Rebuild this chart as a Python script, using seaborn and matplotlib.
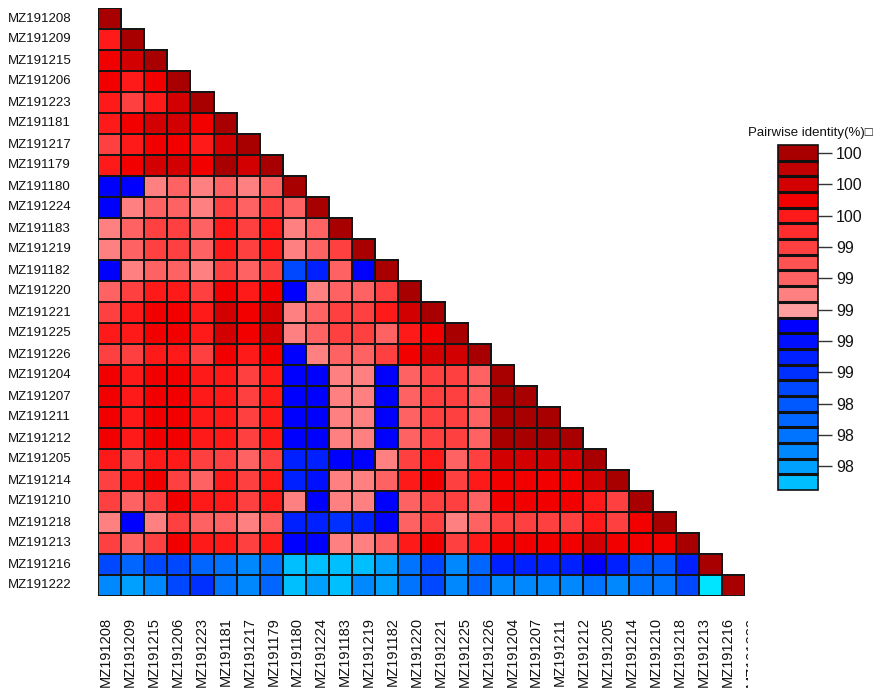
import numpy as np
import pandas as pd
import matplotlib
matplotlib.use("Agg")
import matplotlib.pyplot as plt
from matplotlib.colors import ListedColormap, to_rgba
from matplotlib.transforms import Bbox, TransformedBbox
import seaborn as sns

# Sequence accessions, in matrix order
accessions = [
    "MZ191208", "MZ191209", "MZ191215", "MZ191206", "MZ191223", "MZ191181",
    "MZ191217", "MZ191179", "MZ191180", "MZ191224", "MZ191183", "MZ191219",
    "MZ191182", "MZ191220", "MZ191221", "MZ191225", "MZ191226", "MZ191204",
    "MZ191207", "MZ191211", "MZ191212", "MZ191205", "MZ191214", "MZ191210",
    "MZ191218", "MZ191213", "MZ191216", "MZ191222",
]

# Pairwise identity (%), lower triangle, one list per row (diagonal = 100)
identity_rows = [
    [100],
    [99.55, 100],
    [99.65, 99.75, 100],
    [99.65, 99.55, 99.65, 100],
    [99.55, 99.35, 99.55, 99.75, 100],
    [99.55, 99.65, 99.75, 99.75, 99.65, 100],
    [99.35, 99.55, 99.65, 99.65, 99.55, 99.75, 100],
    [99.55, 99.65, 99.75, 99.75, 99.65, 99.95, 99.75, 100],
    [98.85, 98.85, 99.05, 99.15, 99.05, 99.15, 99.05, 99.15, 100],
    [98.85, 99.05, 99.15, 99.15, 99.05, 99.35, 99.15, 99.35, 99.15, 100],
    [99.05, 99.15, 99.35, 99.35, 99.15, 99.55, 99.35, 99.55, 99.05, 99.15, 100],
    [99.05, 99.15, 99.35, 99.35, 99.15, 99.55, 99.35, 99.55, 99.05, 99.15, 99.35, 100],
    [98.85, 99.05, 99.15, 99.15, 99.05, 99.35, 99.15, 99.35, 98.45, 98.65, 99.15, 98.85, 100],
    [99.15, 99.35, 99.55, 99.55, 99.35, 99.65, 99.55, 99.65, 98.85, 99.05, 99.15, 99.15,
     99.35, 100],
    [99.35, 99.55, 99.65, 99.65, 99.55, 99.75, 99.65, 99.75, 99.05, 99.15, 99.35, 99.35,
     99.55, 99.75, 100],
    [99.55, 99.55, 99.65, 99.65, 99.55, 99.75, 99.65, 99.75, 99.05, 99.15, 99.35, 99.35,
     99.15, 99.55, 99.65, 100],
    [99.35, 99.35, 99.55, 99.55, 99.35, 99.65, 99.55, 99.65, 98.85, 99.05, 99.15, 99.15,
     99.35, 99.65, 99.75, 99.75, 100],
    [99.65, 99.55, 99.65, 99.65, 99.55, 99.55, 99.35, 99.55, 98.85, 98.85, 99.05, 99.05,
     98.85, 99.15, 99.35, 99.35, 99.15, 100],
    [99.65, 99.55, 99.65, 99.65, 99.55, 99.55, 99.35, 99.55, 98.85, 98.85, 99.05, 99.05,
     98.85, 99.15, 99.35, 99.35, 99.15, 99.95, 100],
    [99.65, 99.55, 99.65, 99.65, 99.55, 99.55, 99.35, 99.55, 98.85, 98.85, 99.05, 99.05,
     98.85, 99.15, 99.35, 99.35, 99.15, 99.95, 99.95, 100],
    [99.65, 99.55, 99.65, 99.65, 99.55, 99.55, 99.35, 99.55, 98.85, 98.85, 99.05, 99.05,
     98.85, 99.15, 99.35, 99.35, 99.15, 99.95, 99.95, 99.95, 100],
    [99.55, 99.35, 99.55, 99.55, 99.35, 99.35, 99.15, 99.35, 98.65, 98.65, 98.85, 98.85,
     99.05, 99.35, 99.55, 99.15, 99.35, 99.75, 99.75, 99.75, 99.75, 100],
    [99.35, 99.55, 99.65, 99.35, 99.15, 99.55, 99.35, 99.55, 98.65, 98.75, 99.05, 99.05,
     99.15, 99.55, 99.65, 99.35, 99.55, 99.65, 99.65, 99.65, 99.65, 99.75, 100],
    [99.35, 99.15, 99.35, 99.65, 99.55, 99.55, 99.35, 99.55, 99.05, 98.85, 99.05, 99.05,
     98.85, 99.15, 99.35, 99.35, 99.15, 99.65, 99.65, 99.65, 99.65, 99.55, 99.35, 100],
    [99.05, 98.85, 99.05, 99.35, 99.15, 99.15, 99.05, 99.15, 98.65, 98.65, 98.55, 98.65,
     98.85, 99.15, 99.35, 99.05, 99.15, 99.35, 99.35, 99.35, 99.35, 99.55, 99.35, 99.65, 100],
    [99.35, 99.15, 99.35, 99.65, 99.55, 99.55, 99.35, 99.55, 98.85, 98.85, 99.05, 99.05,
     99.15, 99.55, 99.65, 99.35, 99.55, 99.65, 99.65, 99.65, 99.65, 99.75, 99.65, 99.65,
     99.65, 100],
    [98.45, 98.25, 98.45, 98.45, 98.25, 98.15, 98.05, 98.15, 97.85, 97.85, 97.85, 97.85,
     97.95, 98.15, 98.45, 98.05, 98.25, 98.65, 98.65, 98.65, 98.65, 98.85, 98.65, 98.35,
     98.35, 98.65, 100],
    [98.05, 97.95, 98.05, 98.45, 98.55, 98.15, 98.05, 98.25, 97.85, 97.95, 97.85, 98.05,
     97.95, 98.15, 98.45, 98.05, 98.25, 98.05, 98.05, 98.05, 98.05, 98.15, 98.05, 98.15,
     98.15, 98.45, 97.70, 100],
]

# Colour bins from highest identity (top of the key) to lowest
level_colors = [
    "#A80000", "#C00000", "#D20000", "#F20000", "#FF1A1A", "#FF2D2D",
    "#FF4040", "#FF5252", "#FF6262", "#FF8080", "#FF9E9E",
    "#0000FF", "#0010FF", "#0020FF", "#0030FF", "#0048FF", "#0058FF",
    "#0066FF", "#0074FF", "#0088FF", "#00A0FF", "#00BFFF",
]
below_range_color = "#00E5FF"
scale_min, scale_max = 97.8, 100.0
key_ticks = [99.95, 99.75, 99.55, 99.35, 99.15, 98.95, 98.75, 98.55, 98.35, 98.15, 97.95]
key_title = "Pairwise identity(%)\u25a1"

n = len(accessions)
matrix = np.full((n, n), np.nan)
for i, row in enumerate(identity_rows):
    matrix[i, :len(row)] = row
df = pd.DataFrame(matrix, index=accessions, columns=accessions)
empty = df.isna()

sns.set_theme(style="white")
plt.rcParams["font.family"] = ["Liberation Sans", "DejaVu Sans"]
plt.rcParams["text.color"] = "#111111"

W, H = 874, 688
fig = plt.figure(figsize=(W / 100, H / 100), dpi=100)


def frame(x0, y0, x1, y1):
    return [x0 / W, 1 - y1 / H, (x1 - x0) / W, (y1 - y0) / H]


ax = fig.add_axes(frame(98, 8, 745, 596))
cax = fig.add_axes(frame(778, 145, 818, 490))
label_ax = fig.add_axes(frame(94.05, 8, 94.05 + 669.2, 596))

cmap = ListedColormap(level_colors[::-1])
cmap.set_under(below_range_color)

sns.heatmap(
    df, ax=ax, cbar_ax=cax, cmap=cmap, vmin=scale_min, vmax=scale_max,
    mask=empty, linewidths=1.3, linecolor="#151515",
    xticklabels=False, yticklabels=True,
    cbar_kws={"drawedges": True, "ticks": key_ticks, "format": "%.0f"},
)

# Outline only the filled cells of the triangle
mesh = ax.collections[0]
edge_rgba = np.zeros((n * n, 4))
edge_rgba[~empty.values.ravel()] = to_rgba("#151515")
mesh.set_edgecolor(edge_rgba)

# Row labels, left-aligned at the figure margin
ax.tick_params(axis="y", length=0, pad=64.8, labelsize=9.5, labelcolor="#111111")
for t in ax.get_yticklabels():
    t.set_rotation(0)
    t.set_ha("left")

# Column labels on their own evenly spaced scale
label_ax.set_xlim(0, n)
label_ax.set_ylim(0, 1)
label_ax.set_xticks(np.arange(n) + 0.5)
label_ax.set_xticklabels(accessions, rotation=90, fontsize=10.5, color="#111111")
label_ax.tick_params(axis="x", length=0, pad=15)
label_ax.set_yticks([])
label_ax.patch.set_visible(False)
for s in label_ax.spines.values():
    s.set_visible(False)
label_ax.set_zorder(-1)
clip = TransformedBbox(Bbox.from_extents(0, 0, 748 / W, 1), fig.transFigure)
last = label_ax.get_xticklabels()[-1]
last.set_clip_box(clip)
last.set_clip_on(True)

# Colour key
cbar = mesh.colorbar
cbar.outline.set_edgecolor("#111111")
cbar.outline.set_linewidth(1.2)
cbar.dividers.set_color("#111111")
cbar.dividers.set_linewidth(2.2)
cax.tick_params(length=10, width=1.0, color="#333333", labelsize=11.5, pad=3,
                labelcolor="#111111")
fig.text(748 / W, 1 - 133 / H, key_title, fontsize=9.5, ha="left", va="center",
         family=["Liberation Sans", "DejaVu Sans"])

fig.savefig("out.png", dpi=100)
